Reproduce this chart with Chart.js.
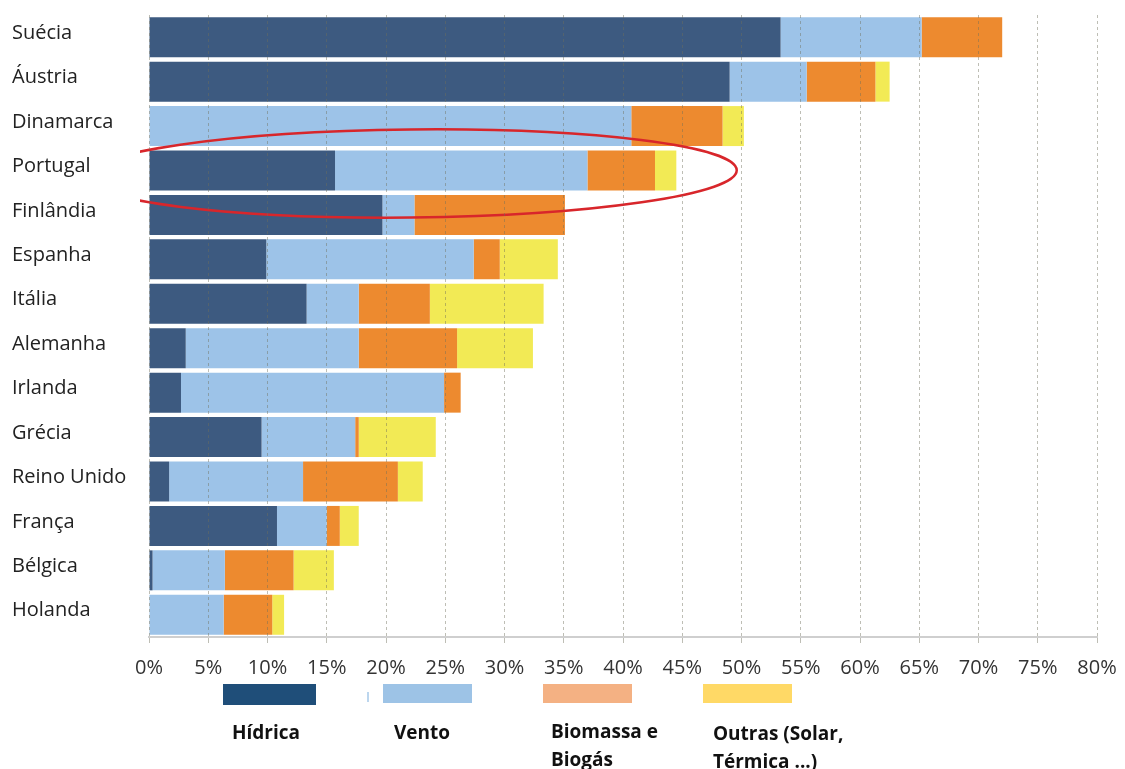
<!DOCTYPE html>
<html>
<head>
<meta charset="utf-8">
<script src="https://cdn.jsdelivr.net/npm/chart.js@4.4.1/dist/chart.umd.min.js"></script>
<style>
  body { margin: 0; background: #fff; }
  #wrap { position: relative; width: 1125px; height: 769px; }
  .box { position: absolute; height: 21px; }
  .lbl { position: absolute; font-family: "Open Sans", sans-serif; font-weight: bold; font-size: 19px; color: #111; line-height: 28px; }
</style>
</head>
<body>
<div id="wrap">
  <canvas id="myChart" width="1125" height="769"></canvas>
  <div class="box" style="left:223px;top:684px;width:93px;background:#1f4e79"></div>
  <div class="box" style="left:367px;top:692px;width:2px;height:10px;background:#bcd6ee"></div>
  <div class="box" style="left:383px;top:684px;width:89px;height:19px;background:#9dc3e6"></div>
  <div class="box" style="left:543px;top:684px;width:89px;height:19px;background:#f4b183"></div>
  <div class="box" style="left:703px;top:684px;width:89px;height:19px;background:#ffd966"></div>
  <div class="lbl" style="left:232px;top:718px">Hídrica</div>
  <div class="lbl" style="left:394px;top:718px">Vento</div>
  <div class="lbl" style="left:551px;top:717px">Biomassa e<br>Biogás</div>
  <div class="lbl" style="left:713px;top:719px">Outras (Solar,<br>Térmica ...)</div>
</div>
<script>
const paises = ["Suécia", "Áustria", "Dinamarca", "Portugal", "Finlândia", "Espanha", "Itália",
  "Alemanha", "Irlanda", "Grécia", "Reino Unido", "França", "Bélgica", "Holanda"];
const hidrica = [53.3, 49.0, 0, 15.7, 19.7, 9.9, 13.3, 3.1, 2.7, 9.5, 1.7, 10.8, 0.3, 0];
const vento = [11.9, 6.5, 40.7, 21.3, 2.7, 17.5, 4.4, 14.6, 22.2, 7.9, 11.3, 4.2, 6.1, 6.3];
const biomassa = [6.8, 5.8, 7.7, 5.7, 12.7, 2.2, 6.0, 8.3, 1.4, 0.3, 8.0, 1.1, 5.8, 4.1];
const outras = [0, 1.2, 1.8, 1.8, 0, 4.9, 9.6, 6.4, 0, 6.5, 2.1, 1.6, 3.4, 1.0];
const xTicks = [0, 5, 10, 15, 20, 25, 30, 35, 40, 45, 50, 55, 60, 65, 70, 75, 80];
const destaque = "Portugal";

// red hand-drawn ellipse around the highlighted country
const elipse = {
  id: "elipse",
  afterDatasetsDraw(chart) {
    const { ctx, chartArea, scales } = chart;
    const cx = scales.x.getPixelForValue(22.1);
    const cy = scales.y.getPixelForValue(paises.indexOf(destaque)) + 3;
    const rx = scales.x.getPixelForValue(49.6) - cx;
    ctx.save();
    ctx.beginPath();
    ctx.rect(chartArea.left - 9, 0, chart.width, chart.height);
    ctx.clip();
    ctx.beginPath();
    ctx.ellipse(cx, cy, rx, 44, -0.01, 0, Math.PI * 2);
    ctx.strokeStyle = "#d8262b";
    ctx.lineWidth = 2.5;
    ctx.stroke();
    ctx.restore();
  },
};

const ctx = document.getElementById("myChart");
new Chart(ctx, {
  type: "bar",
  data: {
    labels: paises,
    datasets: [
      { label: "Hídrica", data: hidrica, backgroundColor: "#3d5a80" },
      { label: "Vento", data: vento, backgroundColor: "#9dc3e8" },
      { label: "Biomassa e Biogás", data: biomassa, backgroundColor: "#ed8a2f" },
      { label: "Outras (Solar, Térmica ...)", data: outras, backgroundColor: "#f2ea55" },
    ],
  },
  options: {
    indexAxis: "y",
    responsive: false,
    animation: false,
    layout: { padding: { top: 14, left: 12, right: 28, bottom: 76 } },
    datasets: { bar: { barPercentage: 0.9, categoryPercentage: 1 } },
    plugins: {
      legend: { display: false },
      tooltip: { enabled: false },
    },
    scales: {
      x: {
        stacked: true,
        min: 0,
        max: 80,
        afterBuildTicks: (axis) => {
          axis.ticks = xTicks.map((v) => ({ value: v }));
        },
        afterFit: (axis) => {
          axis.paddingRight = 0;
        },
        ticks: {
          callback: (v) => v + "%",
          color: "#333",
          font: { family: "Open Sans", size: 20 },
          padding: 13,
          maxRotation: 0,
        },
        grid: {
          z: 1,
          color: "rgba(110,110,90,0.45)",
          tickLength: 6,
          tickColor: "rgba(110,110,90,0.45)",
        },
        // border drawn after the grid layer (z 2) so it sits on the axis
        border: { color: "#cfcfcf", width: 2, dash: [3, 3], z: 2 },
      },
      y: {
        stacked: true,
        afterFit: (axis) => {
          axis.width = 137;
        },
        ticks: {
          crossAlign: "far",
          color: "#222",
          labelOffset: -4,
          font: { family: "Open Sans", size: 20 },
        },
        grid: { display: false },
        border: { display: false },
      },
    },
  },
  plugins: [elipse],
});
</script>
</body>
</html>
